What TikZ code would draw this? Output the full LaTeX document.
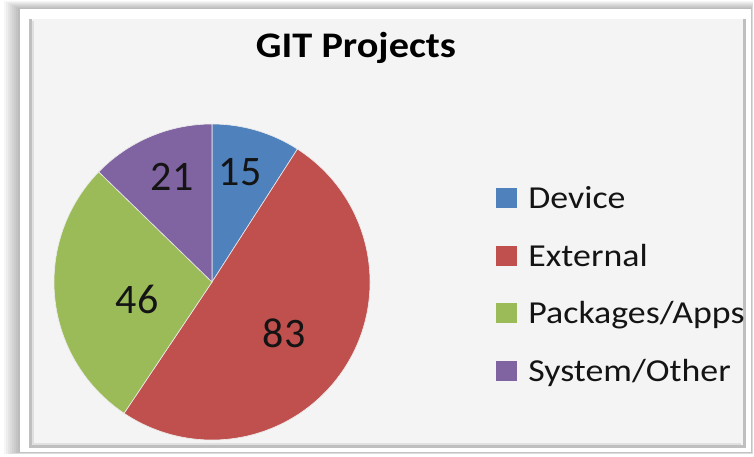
\documentclass[tikz,border=0pt]{standalone}
\usepackage{fontspec}
\setmainfont{Carlito}
\newfontfamily\chartfont[FakeStretch=1.12]{Carlito}
\usepackage{tikz}
\usetikzlibrary{positioning}
\definecolor{devblue}{RGB}{79, 129, 189}
\definecolor{extred}{RGB}{192, 80, 77}
\definecolor{pkggreen}{RGB}{155, 187, 89}
\definecolor{syspurple}{RGB}{128, 100, 162}
\definecolor{panelgray}{RGB}{244, 244, 244}
\definecolor{inktext}{RGB}{20, 20, 20}

\tikzset{
    slice/.style={draw=white!85!gray, line width=0.6pt},
    valtext/.style={inner sep=0pt, anchor=base, text=inktext,
        font=\fontsize{42}{46}\selectfont},
    legbox/.style={minimum width=21pt, minimum height=20pt, inner sep=0pt},
    legtext/.style={inner sep=0pt, text height=20pt, text depth=0pt,
        text=inktext, font=\chartfont\fontsize{32}{36}\selectfont}
}

\begin{document}
\begin{tikzpicture}[x=1pt, y=1pt]
    \useasboundingbox (0, 0) rectangle (754, 456);
    \fill[white] (0, 0) rectangle (754, 456);

    % soft shadow round the frame
    \foreach \i in {1,...,8}
        \fill[black, opacity=0.035] ({20-2*\i}, {4-0.3*\i})
            rectangle ({751+0.3*\i}, {447+\i});

    % frame and panel
    \fill[white] (20, 4) rectangle (751, 447);
    \fill[panelgray] (29, 8) rectangle (744, 437);
    \draw[black!25, line width=3pt] (30.5, 437) -- (30.5, 9.5) -- (744, 9.5)
        -- (744, 437);
    \draw[black!12, line width=2pt] (33, 435) -- (33, 12) -- (741, 12);

    \node[inner sep=0pt, anchor=base, text=black,
        font=\chartfont\bfseries\fontsize{36}{40}\selectfont] (title)
        at (356, 398) {GIT Projects};

    % pie: 15 + 83 + 46 + 21
    \coordinate (pie) at (212, 174);
    \filldraw[slice, fill=devblue] (pie) -- ++(90:158)
        arc[start angle=90, end angle=57.273, radius=158] -- cycle;
    \filldraw[slice, fill=extred] (pie) -- ++(57.273:158)
        arc[start angle=57.273, end angle=-123.818, radius=158] -- cycle;
    \filldraw[slice, fill=pkggreen] (pie) -- ++(-123.818:158)
        arc[start angle=-123.818, end angle=-224.182, radius=158] -- cycle;
    \filldraw[slice, fill=syspurple] (pie) -- ++(135.818:158)
        arc[start angle=135.818, end angle=90, radius=158] -- cycle;

    \node[valtext] (val-dev) at (240, 271) {15};
    \node[valtext] (val-ext) at (284, 109) {83};
    \node[valtext] (val-pkg) at (137, 143) {46};
    \node[valtext] (val-sys) at (172, 266) {21};

    % legend
    \node[legbox, fill=devblue] (dev-box) at (506.5, 258) {};
    \node[legbox, fill=extred] (ext-box) at (506.5, 200) {};
    \node[legbox, fill=pkggreen] (pkg-box) at (506.5, 143) {};
    \node[legbox, fill=syspurple] (sys-box) at (506.5, 85) {};
    \node[legtext, right=11pt of dev-box] (dev-text) {Device};
    \node[legtext, right=11pt of ext-box] (ext-text) {External};
    \node[legtext, right=11pt of pkg-box] (pkg-text) {Packages/Apps};
    \node[legtext, right=11pt of sys-box] (sys-text) {System/Other};
\end{tikzpicture}
\end{document}
